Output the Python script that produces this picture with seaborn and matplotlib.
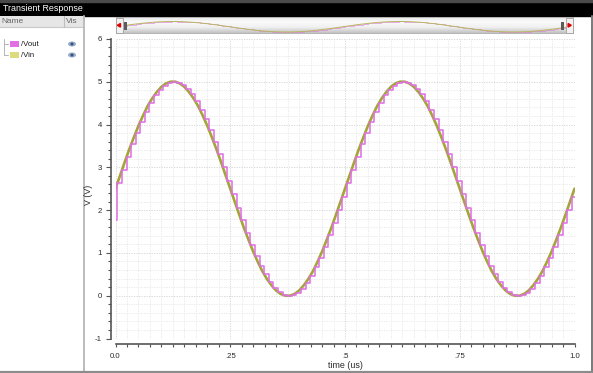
import numpy as np
import matplotlib
matplotlib.use("Agg")
import matplotlib.pyplot as plt
import seaborn as sns
from matplotlib.patches import Rectangle, Ellipse, Polygon
from matplotlib.lines import Line2D
from matplotlib.ticker import MultipleLocator, FixedLocator, FixedFormatter
from matplotlib.colors import LinearSegmentedColormap

# ---------------- data ----------------
title = "Transient Response"
series_names = ["/Vout", "/Vin"]
x_label = "time (us)"
y_label = "V (V)"
x_ticks = [0.0, 0.25, 0.5, 0.75, 1.0]
x_tick_labels = ["0.0", ".25", ".5", ".75", "1.0"]
y_ticks = [-1, 0, 1, 2, 3, 4, 5, 6]
y_tick_labels = ["-1", "0", "1", "2", "3", "4", "5", "6"]

# /Vin: smooth input, sampled every 0.01 us
vin_time = np.round(np.arange(0, 101) * 0.01, 3)
vin_values = [2.50, 2.81, 3.12, 3.42, 3.70, 3.97, 4.21, 4.43, 4.61, 4.76, 4.88, 4.96, 5.00,
              5.00, 4.96, 4.88, 4.76, 4.61, 4.43, 4.21, 3.97, 3.70, 3.42, 3.12, 2.81, 2.50,
              2.19, 1.88, 1.58, 1.30, 1.03, 0.79, 0.57, 0.39, 0.24, 0.12, 0.04, 0.00, 0.00,
              0.04, 0.12, 0.24, 0.39, 0.57, 0.79, 1.03, 1.30, 1.58, 1.88, 2.19, 2.50,
              2.81, 3.12, 3.42, 3.70, 3.97, 4.21, 4.43, 4.61, 4.76, 4.88, 4.96, 5.00,
              5.00, 4.96, 4.88, 4.76, 4.61, 4.43, 4.21, 3.97, 3.70, 3.42, 3.12, 2.81, 2.50,
              2.19, 1.88, 1.58, 1.30, 1.03, 0.79, 0.57, 0.39, 0.24, 0.12, 0.04, 0.00, 0.00,
              0.04, 0.12, 0.24, 0.39, 0.57, 0.79, 1.03, 1.30, 1.58, 1.88, 2.19, 2.50]

# /Vout: sample-and-hold output (initial 1.78 V, then held samples every 0.01 us from 0.004 us)
vout_time = np.concatenate(([0.0], np.round(0.004 + np.arange(100) * 0.01, 3), [1.0]))
vout_values = [1.78,
               2.63, 2.94, 3.24, 3.54, 3.81, 4.07, 4.30, 4.50, 4.68, 4.81, 4.91, 4.98, 5.00,
               4.98, 4.93, 4.84, 4.71, 4.54, 4.34, 4.12, 3.87, 3.59, 3.30, 3.00, 2.69, 2.37,
               2.06, 1.76, 1.46, 1.19, 0.93, 0.70, 0.50, 0.32, 0.19, 0.09, 0.02, 0.00, 0.02,
               0.07, 0.16, 0.29, 0.46, 0.66, 0.88, 1.13, 1.41, 1.70, 2.00, 2.31,
               2.63, 2.94, 3.24, 3.54, 3.81, 4.07, 4.30, 4.50, 4.68, 4.81, 4.91, 4.98, 5.00,
               4.98, 4.93, 4.84, 4.71, 4.54, 4.34, 4.12, 3.87, 3.59, 3.30, 3.00, 2.69, 2.37,
               2.06, 1.76, 1.46, 1.19, 0.93, 0.70, 0.50, 0.32, 0.19, 0.09, 0.02, 0.00, 0.02,
               0.07, 0.16, 0.29, 0.46, 0.66, 0.88, 1.13, 1.41, 1.70, 2.00, 2.31,
               2.31]

VOUT_COLOR = "#e070e4"
VIN_COLOR = "#a4a43a"
VIN_SWATCH = "#dcdc7e"

# ---------------- figure ----------------
sns.set_theme(style="white")
plt.rcParams['font.family'] = ['Liberation Sans', 'DejaVu Sans']

W, H = 593, 373
fig = plt.figure(figsize=(W / 100, H / 100), dpi=100)
fig.patch.set_facecolor("white")


def rect(x0, y0, x1, y1):
    return [x0 / W, 1 - y1 / H, (x1 - x0) / W, (y1 - y0) / H]


# background chrome (pixel coordinates)
bg = fig.add_axes([0, 0, 1, 1], zorder=0)
bg.set_xlim(0, W)
bg.set_ylim(H, 0)
bg.axis("off")

bg.add_patch(Rectangle((0, 0), W, 15.5, color="black"))
bg.add_patch(Rectangle((0, 0), W, 1.5, color="#4a4a4a"))
bg.text(3, 8.6, title, color="white", fontsize=6.4, va="center", ha="left")

# left panel header
bg.add_patch(Rectangle((0, 15.5), 83, 11.5, facecolor="#e6e6e6", edgecolor="none"))
bg.add_line(Line2D([0, 83], [27, 27], color="#c8c8c8", lw=0.8))
bg.add_line(Line2D([64, 64], [15.5, 27], color="#bdbdbd", lw=0.8))
bg.text(1.2, 21.4, "Name", color="#666666", fontsize=6.0, va="center", ha="left")
bg.text(65.5, 21.4, "Vis", color="#666666", fontsize=6.0, va="center", ha="left")

# panel separator, borders
bg.add_line(Line2D([83.5, 83.5], [15.5, 371], color="#bcbcbc", lw=1.4))
bg.add_line(Line2D([591.5, 591.5], [15.5, 373], color="#7a7a7a", lw=1.4))
bg.add_line(Line2D([0, W], [371.8, 371.8], color="#8c8c8c", lw=1.6))

# legend tree
bg.add_line(Line2D([4, 4], [38.5, 55], color="#b4b4b4", lw=0.7))
for yy in (44, 55):
    bg.add_line(Line2D([4, 7.5], [yy, yy], color="#b4b4b4", lw=0.7))
swatches = [VOUT_COLOR, VIN_SWATCH]
for i, (name, col) in enumerate(zip(series_names, swatches)):
    yy = 44 + 11 * i
    bg.add_patch(Rectangle((9.5, yy - 3.4), 9.5, 6.8, facecolor=col, edgecolor="none"))
    bg.text(21, yy + 0.2, name, color="#1a1a1a", fontsize=5.6, va="center", ha="left")
    bg.add_patch(Ellipse((72, yy), 8.0, 5.0, facecolor="#93abc9", edgecolor="none"))
    bg.add_patch(Ellipse((72, yy), 3.0, 3.0, facecolor="#3d5278", edgecolor="none"))

# ---------------- main plot ----------------
ax = fig.add_axes(rect(115.5, 38.9, 574.5, 338.5), zorder=2)
ax.set_facecolor("white")
sns.lineplot(x=vin_time, y=vin_values, ax=ax, color=VIN_COLOR, lw=1.9,
             estimator=None, sort=False, zorder=3)
sns.lineplot(x=vout_time, y=vout_values, ax=ax, color=VOUT_COLOR, lw=1.15,
             drawstyle="steps-post", estimator=None, sort=False, zorder=4)
ax.set_xlim(0, 1)
ax.set_ylim(-1, 6)

for s in ("top", "right"):
    ax.spines[s].set_visible(False)
for s in ("left", "bottom"):
    ax.spines[s].set_position(("outward", 3.6))
    ax.spines[s].set_color("#555555")
    ax.spines[s].set_linewidth(1.2)

ax.xaxis.set_major_locator(FixedLocator(x_ticks))
ax.xaxis.set_major_formatter(FixedFormatter(x_tick_labels))
ax.xaxis.set_minor_locator(MultipleLocator(0.025))
ax.yaxis.set_major_locator(FixedLocator(y_ticks))
ax.yaxis.set_major_formatter(FixedFormatter(y_tick_labels))
ax.yaxis.set_minor_locator(MultipleLocator(0.2))

ax.tick_params(which="both", direction="out", color="#555555", width=0.8,
               labelsize=5.6, labelcolor="#2a2a2a", bottom=True, left=True)
ax.tick_params(axis="x", which="both", length=2.3, pad=4.5)
ax.tick_params(axis="y", which="major", length=3.6, pad=2.6)
ax.tick_params(axis="y", which="minor", length=2.2)

ax.grid(which="major", color="#d2d2d2", lw=0.6, ls=(0, (1.5, 1.5)))
ax.grid(which="minor", color="#e6e6e6", lw=0.6, ls=(0, (1.5, 1.5)))
ax.set_axisbelow(True)

ax.set_xlabel(x_label, fontsize=6.4, color="#2a2a2a")
ax.xaxis.set_label_coords(0.5, -0.074)
ax.set_ylabel(y_label, fontsize=6.4, color="#2a2a2a")
ax.yaxis.set_label_coords(-0.048, 0.48)

# ---------------- overview scroller ----------------
mini = fig.add_axes(rect(116, 17.3, 573, 33.3), zorder=3)
mx = (0, 1.0066)
my = (-0.62, 7.0)
grad = np.linspace(0, 1, 64)[:, None]
cmap = LinearSegmentedColormap.from_list("bar", ["#e2e2e2", "#fbfbfb", "#f0f0f0", "#c2c2c2"])
mini.imshow(grad, cmap=cmap, extent=(mx[0], mx[1], my[0], my[1]), aspect="auto",
            origin="upper", zorder=0)
sns.lineplot(x=vin_time, y=vin_values, ax=mini, color="#b8b860", lw=0.7,
             estimator=None, sort=False, zorder=2)
sns.lineplot(x=vout_time, y=vout_values, ax=mini, color=VOUT_COLOR, lw=0.5,
             drawstyle="steps-post", estimator=None, sort=False, zorder=1, alpha=0.8)
mini.set_xlim(*mx)
mini.set_ylim(*my)
mini.set_xticks([])
mini.set_yticks([])
for s in mini.spines.values():
    s.set_color("#a8a8a8")
    s.set_linewidth(0.6)

# scroller end caps (foreground, pixel coordinates)
fg = fig.add_axes([0, 0, 1, 1], zorder=5)
fg.set_xlim(0, W)
fg.set_ylim(H, 0)
fg.axis("off")
fg.patch.set_alpha(0)
for x0 in (115.5, 565.5):
    fg.add_patch(Rectangle((x0, 17.5), 7.5, 15.6, facecolor="#f2f2f2", edgecolor="#a0a0a0", lw=0.6))
fg.add_patch(Polygon([(117.3, 25.3), (120.5, 23.5), (120.5, 27.1)], closed=True, color="#e00000"))
fg.add_patch(Polygon([(571.3, 25.3), (568.1, 23.5), (568.1, 27.1)], closed=True, color="#e00000"))
fg.add_patch(Rectangle((124.4, 21.6), 2.6, 8.8, facecolor="#5c5c5c", edgecolor="none"))
fg.add_patch(Rectangle((561.3, 21.6), 2.6, 8.8, facecolor="#5c5c5c", edgecolor="none"))

fig.savefig("out.png", dpi=100)
